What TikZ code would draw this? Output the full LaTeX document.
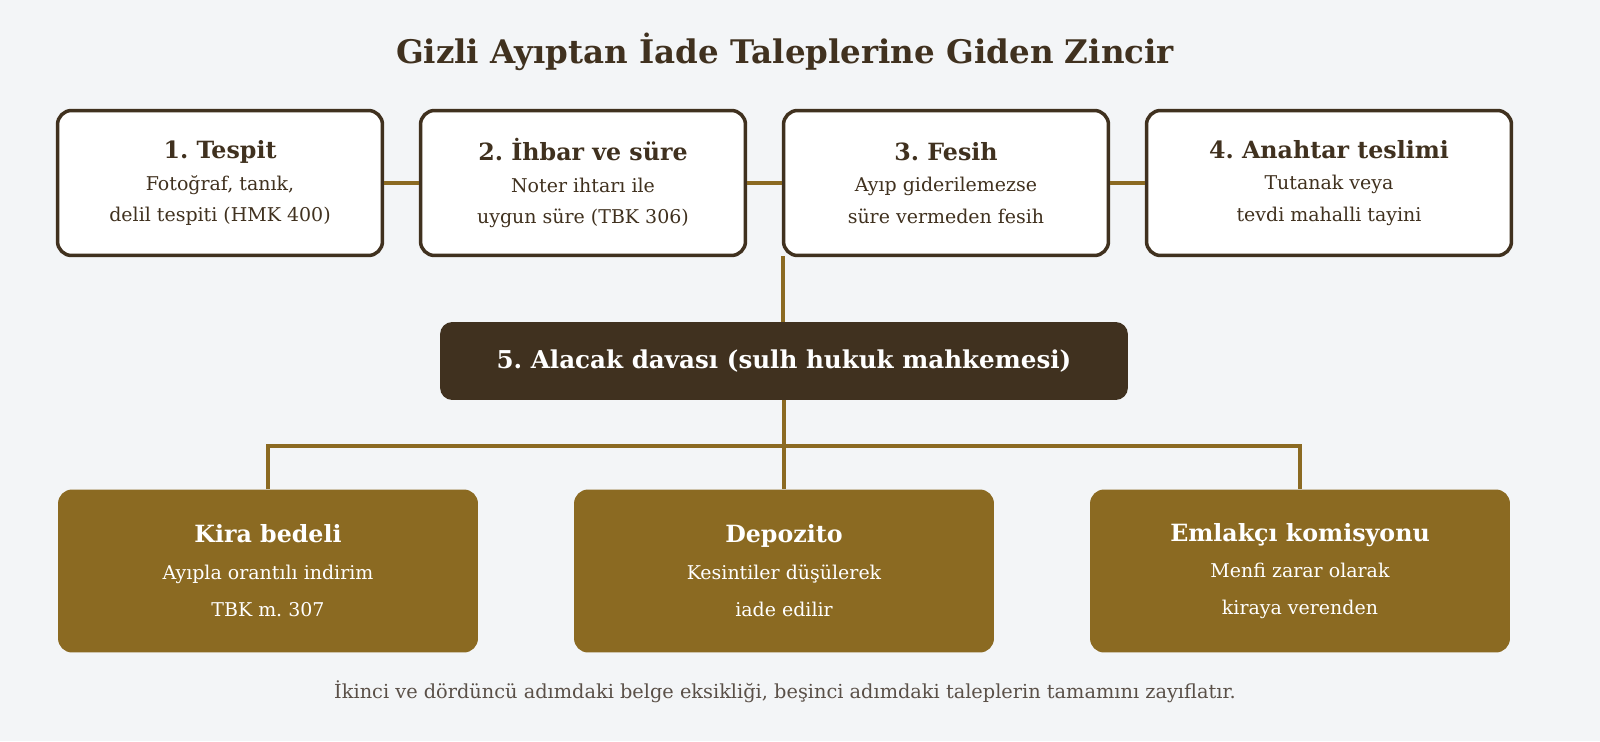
\documentclass[tikz,border=0pt]{standalone}
\usepackage{fontspec}
\setmainfont{DejaVu Serif}
\usetikzlibrary{positioning}
\definecolor{bgc}{HTML}{F3F5F7}
\definecolor{brownd}{HTML}{40311F}
\definecolor{goldl}{HTML}{8B6A22}
\definecolor{txtg}{HTML}{5A5048}
\frenchspacing
\begin{document}
\begin{tikzpicture}[x=0.02cm, y=-0.02cm,
    stage/.style={rectangle, draw=brownd, line width=2pt, fill=white, rounded corners=8pt, minimum width=6.5cm, minimum height=2.9cm, align=center, text=brownd, font=\fontsize{10.8}{18}\selectfont},
    stagew/.style={stage, minimum width=7.3cm},
    court/.style={rectangle, fill=brownd, rounded corners=7pt, minimum width=13.76cm, minimum height=1.56cm, text=white, font=\bfseries\fontsize{14}{16}\selectfont},
    claim/.style={rectangle, fill=goldl, rounded corners=8pt, minimum width=8.4cm, minimum height=3.26cm, align=center, text=white, font=\fontsize{10.8}{21}\selectfont},
    link/.style={draw=goldl, line width=2.2pt}
]
\fill[bgc] (0,0) rectangle (1600,741);

% Title
\node[text=brownd, font=\bfseries\fontsize{18.5}{22}\selectfont] (title) at (785,52) {Gizli Ayıptan İade Taleplerine Giden Zincir};

% Steps
\node[stage] (tespit) at (220,183) {{\bfseries\fontsize{13.5}{18}\selectfont 1. Tespit}\\Fotoğraf, tanık,\\delil tespiti (HMK 400)};
\node[stage] (ihbar) at (583,183) {{\bfseries\fontsize{13.5}{18}\selectfont 2. İhbar ve süre}\\Noter ihtarı ile\\uygun süre (TBK 306)};
\node[stage] (fesih) at (946,183) {{\bfseries\fontsize{13.5}{18}\selectfont 3. Fesih}\\Ayıp giderilemezse\\süre vermeden fesih};
\node[stagew] (anahtar) at (1329,183) {{\bfseries\fontsize{13.5}{18}\selectfont 4. Anahtar teslimi}\\Tutanak veya\\tevdi mahalli tayini};

\draw[link] (tespit) -- (ihbar);
\draw[link] (ihbar) -- (fesih);
\draw[link] (fesih) -- (anahtar);

% Court
\node[court] (dava) at (784,361) {5. Alacak davası (sulh hukuk mahkemesi)};
\coordinate (f3) at (783,256);
\draw[link] (f3) -- (dava.north -| f3);

% Claims
\node[claim] (kira) at (268,571) {{\bfseries\fontsize{13.5}{18}\selectfont Kira bedeli}\\Ayıpla orantılı indirim\\TBK m. 307};
\node[claim] (depozito) at (784,571) {{\bfseries\fontsize{13.5}{18}\selectfont Depozito}\\Kesintiler düşülerek\\iade edilir};
\node[claim] (emlak) at (1300,571) {{\bfseries\fontsize{13.5}{18}\selectfont Emlakçı komisyonu}\\Menfi zarar olarak\\kiraya verenden};

\coordinate (bus) at (784,446);
\draw[link] (dava.south) -- (depozito.north);
\draw[link] (kira.north) -- (kira.north |- bus) -- (emlak.north |- bus) -- (emlak.north);

% Footer
\node[text=txtg, font=\fontsize{11}{13}\selectfont] (note) at (785,692) {İkinci ve dördüncü adımdaki belge eksikliği, beşinci adımdaki taleplerin tamamını zayıflatır.};
\end{tikzpicture}
\end{document}
